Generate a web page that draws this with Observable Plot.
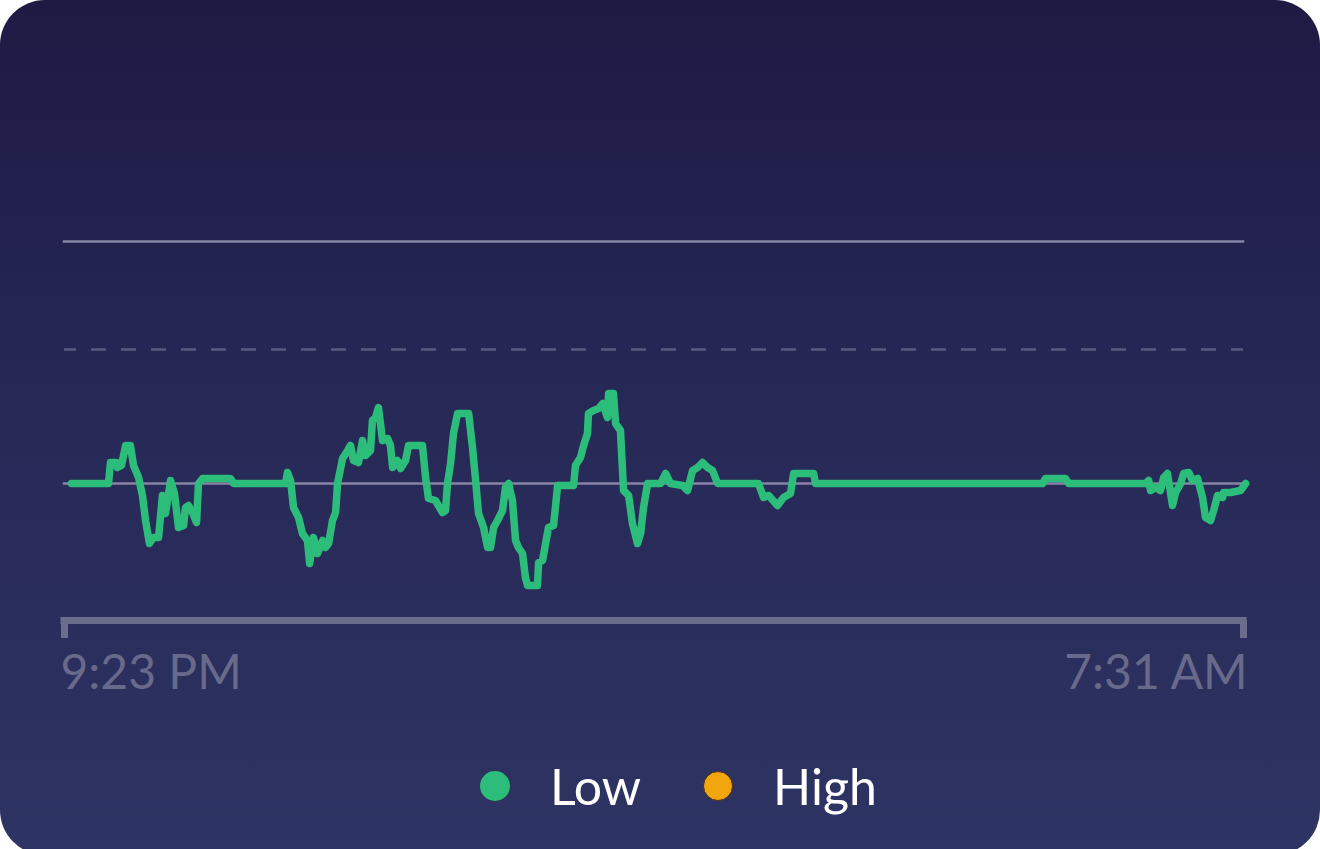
<!DOCTYPE html>
<html><head><meta charset="utf-8">
<script src="https://cdn.jsdelivr.net/npm/d3@7"></script>
<script src="https://cdn.jsdelivr.net/npm/@observablehq/plot@0.6"></script>
<style>
html,body{margin:0;padding:0;background:#ffffff;width:1320px;height:849px;overflow:hidden;}
#card{position:relative;width:1320px;height:855px;border-radius:45px;overflow:hidden;
  background:linear-gradient(180deg,#1e1a44 0%,#272957 50%,#2e3463 100%);}
#chart svg{display:block;}
#legend{position:absolute;left:480px;top:761px;height:50px;display:flex;align-items:center;
  font-family:Lato,"Noto Sans",sans-serif;font-size:50px;color:#ffffff;}
.item{display:flex;align-items:center;margin-right:62px;}
.dot{width:30px;height:30px;border-radius:50%;margin-right:40px;box-sizing:border-box;}
</style></head>
<body>
<div id="card"><div id="chart"></div><div id="legend"></div></div>
<script>
// time of first and last reading
const startLabel = "9:23 PM";
const endLabel = "7:31 AM";
const timeLabels = [startLabel, endLabel];
const totalMinutes = 608; // 9:23 PM -> 7:31 AM

// minutes after start, and level readings
const minutes = [3.6,22.7,23.7,26.8,27.3,29.4,31.5,34.0,35.6,38.2,40.2,41.8,43.8,45.9,48.5,50.5,52.1,54.7,56.7,58.8,
 61.4,62.4,63.9,66.0,68.1,69.1,71.2,85.6,87.2,114.0,115.0,116.6,118.1,120.7,122.7,125.3,126.4,128.4,130.5,133.1,
 134.6,136.2,138.2,139.8,140.8,143.4,146.0,147.5,149.0,151.6,153.7,155.2,157.8,158.8,160.4,161.9,164.0,166.6,168.1,169.2,
 171.7,173.3,175.9,177.4,184.6,186.2,187.7,191.3,194.9,196.5,197.5,199.1,200.6,202.7,208.4,210.4,212.0,213.5,216.1,218.2,
 219.7,221.3,223.3,225.9,227.4,229.0,231.0,232.6,234.1,236.2,237.7,238.8,243.9,244.5,246.5,248.1,249.6,252.2,254.3,262.5,
 263.5,266.1,267.7,269.7,270.2,272.8,275.4,277.5,280.0,280.6,283.1,284.2,286.7,288.3,290.9,292.9,295.5,297.1,298.6,300.7,
 307.4,310.0,312.5,318.7,321.3,323.9,326.5,329.0,331.6,334.2,336.8,357.9,360.5,363.1,367.7,370.8,374.4,376.0,386.3,387.3,
 504.4,505.9,516.2,517.8,557.5,559.1,560.1,562.7,565.2,566.8,568.8,571.4,573.0,575.6,577.1,579.7,581.7,584.3,586.9,588.4,
 591.0,592.6,594.6,597.2,597.7,601.3,606.5,609.1];
const levels = [137,137,158,158,153,155,175,175,155,143,125,100,77,83,83,125,107,140,127,93,
 95,113,115,108,98,137,142,142,137,137,148,140,113,103,87,80,57,83,67,80,
 73,77,100,108,137,162,170,175,160,158,180,165,170,200,203,213,180,182,175,153,
 160,152,160,175,175,143,122,120,108,110,137,157,187,207,207,173,140,107,93,73,
 73,93,100,110,133,137,120,80,73,67,43,35,35,58,60,77,93,95,135,135,
 155,163,175,187,207,210,212,217,203,227,227,197,190,130,125,97,77,87,113,137,
 137,147,137,135,130,150,153,158,153,150,137,137,123,125,115,123,127,147,147,137,
 137,142,142,137,137,140,130,133,130,143,147,115,128,137,147,148,140,142,123,103,
 100,110,125,123,128,128,130,137];

// guide levels: top limit, dashed threshold, baseline; axis floor
const topLevel = [379];
const dashedLevel = [271];
const baseLevel = [137];
const floorLevel = [0];

const legendLabels = ["Low", "High"];
const legendColors = ["#2dbd7b", "#f2a60d"];

const t0 = new Date(2024, 0, 1, 21, 23);
const t1 = new Date(t0.getTime() + totalMinutes * 60000);
const data = minutes.map((m, i) => ({t: new Date(t0.getTime() + m * 60000), v: levels[i]}));

const span = {x1: () => t0, x2: () => t1};
const labelFont = 'Lato, "Noto Sans", sans-serif';

const chart = Plot.plot({
  width: 1320, height: 740, margin: 0,
  style: {background: "transparent", overflow: "visible"},
  x: {type: "time", domain: [t0, t1], range: [64, 1243], axis: null},
  y: {domain: [0, 379], range: [620, 241], axis: null},
  marks: [
    Plot.ruleY(topLevel, {...span, stroke: "#8585a6", strokeWidth: 2.5, strokeLinecap: "square"}),
    Plot.ruleY(dashedLevel, {...span, stroke: "#585a7e", strokeWidth: 2.5, strokeDasharray: "15,15", strokeDashoffset: 3}),
    Plot.ruleY(baseLevel, {...span, stroke: "#8784a4", strokeWidth: 2.5, strokeLinecap: "square"}),
    Plot.ruleY(floorLevel, {...span, stroke: "#6b6d8c", strokeWidth: 7, strokeLinecap: "square"}),
    Plot.ruleX([t0, t1], {y1: () => 0, y2: () => 0, insetTop: 18, stroke: "#6b6d8c", strokeWidth: 7}),
    Plot.line(data, {x: "t", y: "v", stroke: legendColors[0], strokeWidth: 7.5, strokeLinejoin: "round", strokeLinecap: "round"}),
    Plot.text([timeLabels[0]], {x: () => t0, y: () => 0, text: d => d, textAnchor: "start", lineAnchor: "top", dx: -4, dy: 34,
      fill: "#676a8a", fontSize: 48, fontFamily: labelFont}),
    Plot.text([timeLabels[1]], {x: () => t1, y: () => 0, text: d => d, textAnchor: "end", lineAnchor: "top", dx: 4, dy: 34,
      fill: "#676a8a", fontSize: 48, fontFamily: labelFont})
  ]
});
document.getElementById("chart").appendChild(chart);

const legend = document.getElementById("legend");
legendLabels.forEach((label, i) => {
  const item = document.createElement("div");
  item.className = "item";
  const dot = document.createElement("span");
  dot.className = "dot";
  dot.style.background = legendColors[i];
  if (i === 1) dot.style.border = "1.5px solid #4a2c18";
  const txt = document.createElement("span");
  txt.textContent = label;
  item.appendChild(dot); item.appendChild(txt);
  legend.appendChild(item);
});
</script>
</body></html>
